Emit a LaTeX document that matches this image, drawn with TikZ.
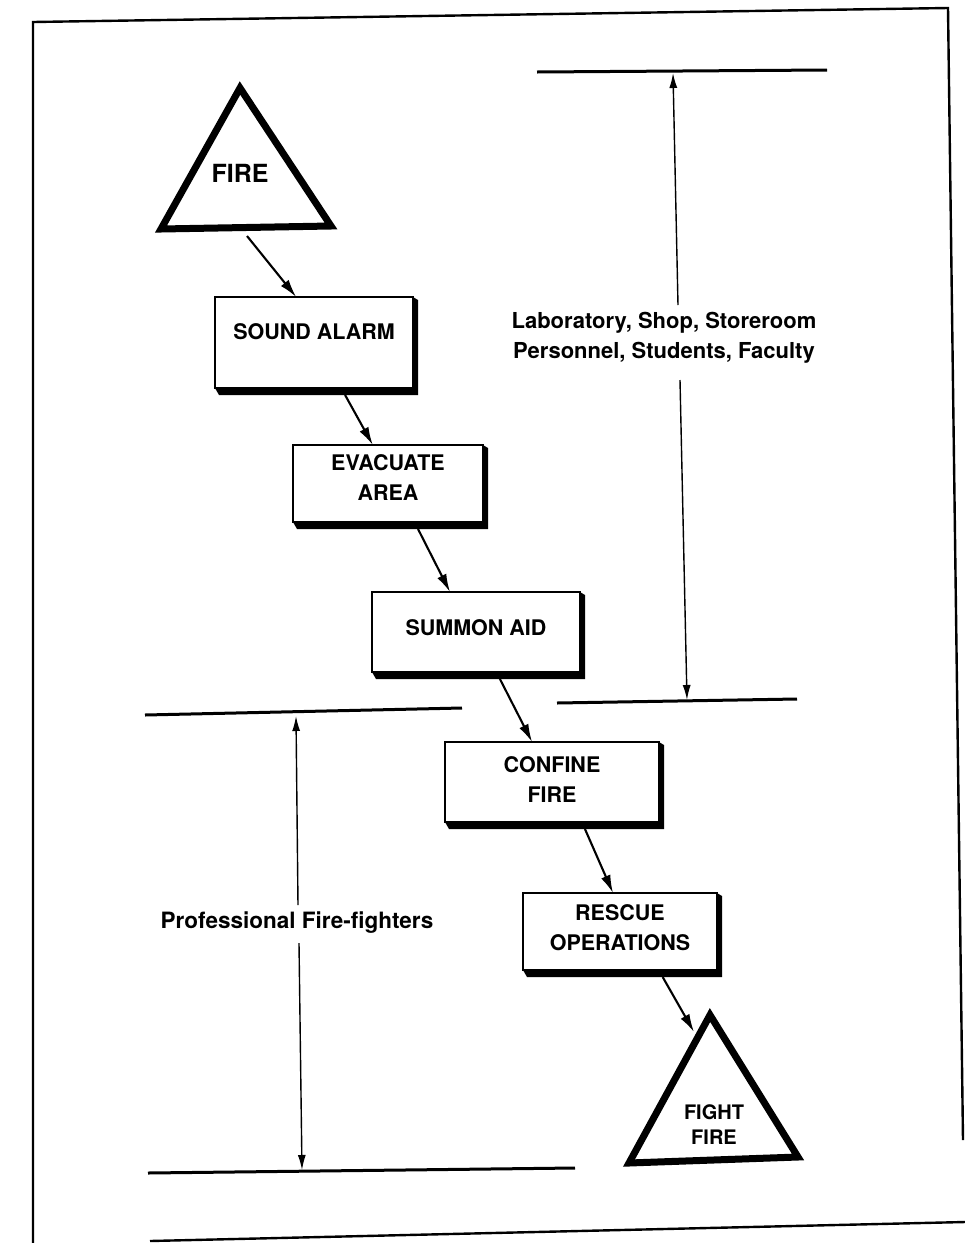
\documentclass[tikz,border=0pt]{standalone}
\usepackage{fontspec}
\setmainfont{TeX Gyre Heros}
\usetikzlibrary{arrows.meta,calc}
\begin{document}
\begin{tikzpicture}[x=1pt,y=-1pt,
  frame/.style={line width=2.4pt},
  dimline/.style={line width=3pt},
  dimarrow/.style={line width=1.4pt,-{Latex[length=15pt,width=8pt]}},
  flow/.style={line width=2.1pt,-{Latex[length=18pt,width=10pt]}},
  box/.style={draw,line width=2.2pt,fill=white,outer sep=0pt,inner sep=0pt,align=center,
    font=\fontsize{21.5}{30}\selectfont\bfseries},
  tri/.style={line width=7pt,line join=miter},
  lbl/.style={font=\fontsize{22}{30}\selectfont\bfseries,align=center,inner sep=0pt},
  trilbl/.style={align=center,inner sep=0pt}
]
\useasboundingbox (0,0) rectangle (965,1243);
\fill[white] (0,0) rectangle (965,1243);

% frame
\coordinate (ftl) at (33,22);
\coordinate (fbl) at (33,1243);
\coordinate (ftr) at (948,8);
\coordinate (fbr) at (963,1140);
\coordinate (fbs) at (150,1241);
\coordinate (fbe) at (965,1222);
\draw[frame] (fbl) -- (ftl) -- (ftr) -- (fbr);
\draw[frame] (fbs) -- (fbe);

% triangles
\draw[tri] (240,88) -- (331,226) -- (161,229) -- cycle;
\node[trilbl,font=\fontsize{25}{30}\selectfont\bfseries] (fire) at (240,173) {FIRE};
\draw[tri] (710,1015) -- (798,1157) -- (629,1163) -- cycle;
\node[trilbl,font=\fontsize{20}{25}\selectfont\bfseries] (fight) at (714,1125) {FIGHT\\FIRE};

% boxes
\node[box,minimum width=198pt,minimum height=91pt,text depth=21pt] (alarm) at (314,342.5) {SOUND ALARM};
\node[box,minimum width=190pt,minimum height=77pt,text depth=11pt] (evac) at (388,483.5) {EVACUATE\\AREA};
\node[box,minimum width=208pt,minimum height=80pt,text depth=8pt] (summon) at (476,632) {SUMMON AID};
\node[box,minimum width=214pt,minimum height=80pt,text depth=5pt] (confine) at (552,782) {CONFINE\\FIRE};
\node[box,minimum width=194pt,minimum height=77pt,text depth=8pt] (rescue) at (620,931.5) {RESCUE\\OPERATIONS};

\foreach \b in {alarm,evac,summon,confine,rescue}{
  \fill (\b.south west) -- ([xshift=4pt,yshift=-7pt]\b.south west)
     -- ([xshift=5pt,yshift=-7pt]\b.south east) -- ([xshift=5pt,yshift=-3pt]\b.north east)
     -- (\b.north east) -- (\b.south east) -- cycle;
}

% flow arrows
\coordinate (fireb) at (247,236);
\coordinate (fightl) at (694,1032);
\draw[flow] (fireb) -- ($(alarm.north west)!0.41!(alarm.north east)$);
\draw[flow] ($(alarm.south west)!0.657!(alarm.south east)+(0,7)$) -- ($(evac.north west)!0.42!(evac.north east)$);
\draw[flow] ($(evac.south west)!0.658!(evac.south east)+(0,7)$) -- ($(summon.north west)!0.375!(summon.north east)$);
\draw[flow] ($(summon.south west)!0.615!(summon.south east)+(0,7)$) -- ($(confine.north west)!0.407!(confine.north east)$);
\draw[flow] ($(confine.south west)!0.654!(confine.south east)+(0,7)$) -- ($(rescue.north west)!0.464!(rescue.north east)$);
\draw[flow] ($(rescue.south west)!0.72!(rescue.south east)+(0,7)$) -- (fightl);

% dimension: laboratory personnel
\coordinate (t1a) at (537,72);
\coordinate (t1b) at (827,70);
\coordinate (m1a) at (557,703);
\coordinate (m1b) at (797,699);
\draw[dimline] (t1a) -- (t1b);
\draw[dimline] (m1a) -- (m1b);
\node[lbl] (lab) at (664,338) {Laboratory, Shop, Storeroom\\Personnel, Students, Faculty};
\coordinate (labtop) at (678,305);
\coordinate (labbot) at (680,380);
\coordinate (labup) at (673,73);
\coordinate (labdn) at (687,700);
\draw[dimarrow] (labtop) -- (labup);
\draw[dimarrow] (labbot) -- (labdn);

% dimension: professional fire-fighters
\coordinate (m2a) at (145,715);
\coordinate (m2b) at (462,708);
\coordinate (b2a) at (148,1173);
\coordinate (b2b) at (575,1168);
\draw[dimline] (m2a) -- (m2b);
\draw[dimline] (b2a) -- (b2b);
\node[lbl,font=\fontsize{22.5}{30}\selectfont\bfseries] (prof) at (297,923) {Professional Fire-fighters};
\coordinate (proftop) at (298,905);
\coordinate (profbot) at (299,943);
\coordinate (profup) at (296,716);
\coordinate (profdn) at (302,1170);
\draw[dimarrow] (proftop) -- (profup);
\draw[dimarrow] (profbot) -- (profdn);
\end{tikzpicture}
\end{document}
